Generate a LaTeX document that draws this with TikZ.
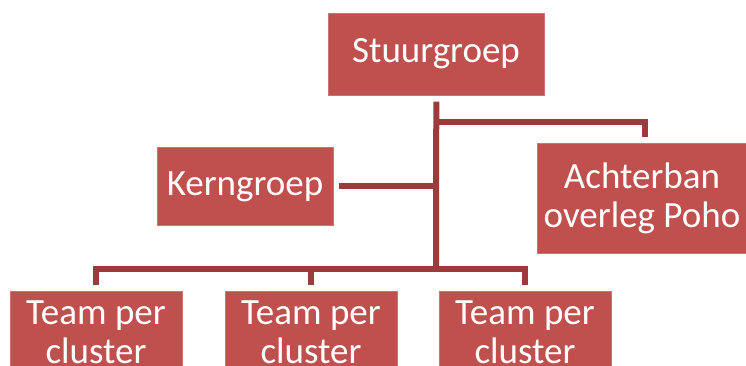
\documentclass[tikz,border=0pt]{standalone}
\usepackage{fontspec}
\setmainfont{Carlito}
\definecolor{boxred}{HTML}{C0504D}
\definecolor{linered}{HTML}{9B3B3C}
\begin{document}
\begin{tikzpicture}[x=1pt,y=-1pt,
  box/.style={rectangle, fill=boxred, draw=boxred!80!white, line width=0.6pt, inner sep=0pt, anchor=north west},
  lbl/.style={text=white, font=\fontsize{37}{39}\selectfont, inner sep=0pt, anchor=base},
  conn/.style={draw=linered, line width=6pt}]
\path[use as bounding box] (0,0) rectangle (746,366);
\clip (0,0) rectangle (746,366);
% boxes
\node[box, minimum width=216pt, minimum height=82pt] (stuur) at (328,13) {};
\node[box, minimum width=176pt, minimum height=78pt] (kern) at (157,147) {};
\node[box, minimum width=212pt, minimum height=110pt] (acht) at (537,143) {};
\node[box, minimum width=172pt, minimum height=100pt] (t1) at (10,291) {};
\node[box, minimum width=172pt, minimum height=100pt] (t2) at (225,291) {};
\node[box, minimum width=172pt, minimum height=100pt] (t3) at (439,291) {};
% labels
\node[lbl] (stuurL) at (436,63) {Stuurgroep};
\node[lbl] (kernL) at (245,195) {Kerngroep};
\node[lbl] (achtA) at (642,188) {Achterban};
\node[lbl] (achtB) at (642,227) {overleg Poho};
\node[lbl] (t1a) at (96,324) {Team per};
\node[lbl] (t1b) at (96,363) {cluster};
\node[lbl] (t2a) at (311,324) {Team per};
\node[lbl] (t2b) at (311,363) {cluster};
\node[lbl] (t3a) at (525,324) {Team per};
\node[lbl] (t3b) at (525,363) {cluster};
% junctions
\coordinate (jtop) at (436,122);
\coordinate (bus) at (436,269);
% connectors
\draw[conn, shorten <=6pt] (stuur.south) -- (bus);
\draw[conn, shorten >=6pt] (jtop) -| (acht.north -| 645,0);
\draw[conn, shorten <=5pt] (kern.east) -- (kern.east -| bus);
\draw[conn, shorten <=6pt, shorten >=6pt] (t1.north) |- (bus) -| (t3.north);
\draw[conn, shorten <=6pt] (t2.north) -- (t2.north |- bus);
\end{tikzpicture}
\end{document}
